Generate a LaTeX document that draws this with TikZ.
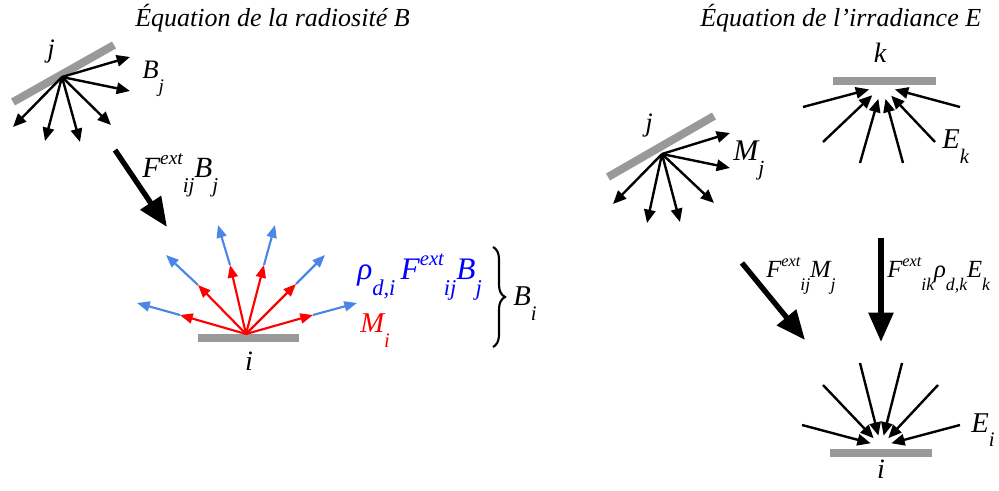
\documentclass[tikz,border=0pt]{standalone}
\usepackage{fontspec}
\setmainfont{Liberation Serif}
\usepackage{graphicx}
\usetikzlibrary{arrows.meta,calc,decorations.pathreplacing}
\definecolor{barg}{RGB}{153,153,153}
\definecolor{lblue}{RGB}{74,134,232}
\newcommand\dn[1]{\raisebox{-0.5em}{\scalebox{0.72}{#1}}}
\newcommand\up[1]{\raisebox{0.45em}{\scalebox{0.66}{#1}}}
\newcommand\fs[1]{\fontsize{#1}{#1}\selectfont\itshape}
\begin{document}
\begin{tikzpicture}[x=0.75pt,y=-0.75pt,
  surf/.style={draw=barg,line width=6pt},
  ray/.style={line width=1.8pt,-{Triangle[length=10pt,width=8.5pt]}},
  cray/.style={line width=1.6pt,-{Triangle[length=9.5pt,width=7.5pt]}},
  bigarrow/.style={line width=4pt,-{Triangle[length=22pt,width=18pt]}},
  lbl/.style={inner sep=0pt,anchor=base west},
  lblc/.style={inner sep=0pt,anchor=base}]
\useasboundingbox (0,0) rectangle (999,491);

% titles
\node[lbl,font=\fs{19.5}] (t1) at (135,27) {Équation de la radiosité B};
\node[lbl,font=\fs{19.5}] (t2) at (700,27) {Équation de l’irradiance E};

% ---------- left: radiosity ----------
\coordinate (ja1) at (13,102); \coordinate (ja2) at (114,45);
\draw[surf] (ja1) -- (ja2);
\coordinate (js) at (62,77);
\foreach \x/\y [count=\n] in {130/57,130/91,111/125,80/142,45/141,13/127}
  \coordinate (je\n) at (\x,\y);
\foreach \n in {1,...,6} \draw[ray] (js) -- (je\n);
\node[lblc,font=\fs{20}] (jl) at (51,58) {j};
\node[lbl,font=\fs{20}] (bj) at (142,79) {B\dn{j}};

\coordinate (ba1) at (115,150); \coordinate (ba2) at (167,227);
\draw[bigarrow] (ba1) -- (ba2);
\node[lbl,font=\fs{22}] (fbj) at (142,178) {F\up{ext}\dn{ij}B\dn{j}};

\coordinate (ia1) at (198,338); \coordinate (ia2) at (299,338);
\draw[surf] (ia1) -- (ia2);
\coordinate (is) at (246,334);
\foreach \rx/\ry/\bx/\by [count=\n] in {180/315/137/303,198/285/166/255,230/265/218/225,264/265/275/225,296/284/325/255,313/315/357/303}{
  \coordinate (ir\n) at (\rx,\ry); \coordinate (ib\n) at (\bx,\by);}
\foreach \n in {1,...,6} \draw[cray,lblue] (ir\n) -- (ib\n);
\foreach \n in {1,...,6} \draw[cray,red] (is) -- (ir\n);
\node[lblc,font=\fs{21}] (il) at (249,370) {i};

\node[lbl,font=\fs{23.5},text=blue] (rho) at (357,280) {ρ\dn{d,i}\,F\up{ext}\dn{ij}B\dn{j}};
\node[lbl,font=\fs{21.5},text=red] (mi) at (360,333) {M\dn{i}};
\coordinate (br1) at (493,247); \coordinate (br2) at (493,347);
\draw[line width=1.6pt,decorate,decoration={brace,amplitude=9pt}] (br1) -- (br2);
\node[lbl,font=\fs{21.5}] (bi) at (513,306) {B\dn{i}};

% ---------- right: irradiance ----------
\coordinate (ka1) at (833,81); \coordinate (ka2) at (936,81);
\draw[surf] (ka1) -- (ka2);
\coordinate (kc) at (882,86);
\foreach \x/\y [count=\n] in {803/107,823/142,860/163,903/163,935/142,960/107}
  \coordinate (ks\n) at (\x,\y);
\foreach \n in {1,...,6} \draw[ray] (ks\n) -- ($(kc)!10pt!(ks\n)$);
\node[lblc,font=\fs{21}] (kl) at (880,63) {k};
\node[lbl,font=\fs{21.5}] (ek) at (942,149) {E\dn{k}};

\coordinate (rja1) at (608,177); \coordinate (rja2) at (714,116);
\draw[surf] (rja1) -- (rja2);
\coordinate (rjs) at (662,154);
\foreach \x/\y [count=\n] in {730/133,730/168,714/203,680/222,647/223,613/204}
  \coordinate (rje\n) at (\x,\y);
\foreach \n in {1,...,6} \draw[ray] (rjs) -- (rje\n);
\node[lblc,font=\fs{20}] (rjl) at (649,132) {j};
\node[lbl,font=\fs{22.5}] (mj) at (733,161) {M\dn{j}};

\coordinate (da1) at (742,263); \coordinate (da2) at (805,340);
\draw[bigarrow] (da1) -- (da2);
\node[lbl,font=\fs{18.5}] (fmj) at (766,278) {F\up{ext}\dn{ij}M\dn{j}};
\coordinate (va1) at (881,238); \coordinate (va2) at (881,342);
\draw[bigarrow] (va1) -- (va2);
\node[lbl,font=\fs{18.5}] (fek) at (887,278) {F\up{ext}\dn{ik}ρ\dn{d,k}E\dn{k}};

\coordinate (ria1) at (830,453); \coordinate (ria2) at (932,453);
\draw[surf] (ria1) -- (ria2);
\coordinate (ic) at (881,446);
\foreach \x/\y [count=\n] in {802/425,823/385,860/363,902/363,938/385,960/425}
  \coordinate (is\n) at (\x,\y);
\foreach \n in {1,...,6} \draw[ray] (is\n) -- ($(ic)!8pt!(is\n)$);
\node[lbl,font=\fs{21.5}] (ei) at (971,432) {E\dn{i}};
\node[lblc,font=\fs{21}] (ril) at (881,478) {i};
\end{tikzpicture}
\end{document}
